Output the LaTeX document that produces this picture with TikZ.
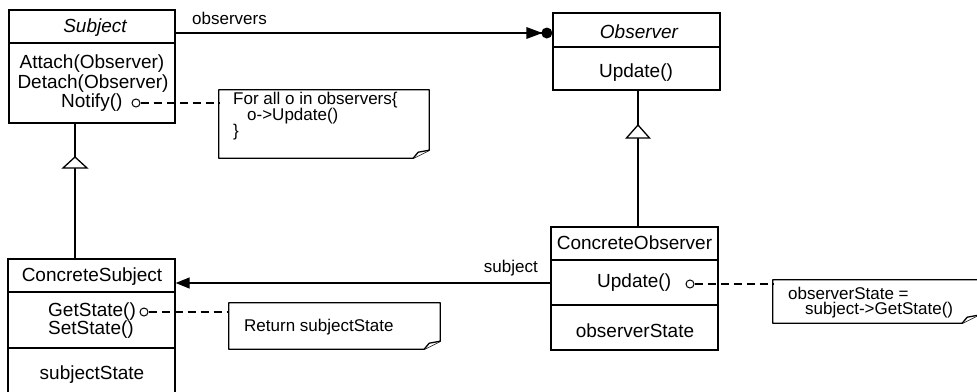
\documentclass[tikz,border=0pt]{standalone}
\usepackage{fontspec}
\setmainfont{Liberation Sans}
\usetikzlibrary{arrows.meta,calc}
\begin{document}
\begin{tikzpicture}[x=1pt,y=-1pt,
  cls/.style={draw,line width=1.3pt,rectangle,inner sep=0pt},
  ctext/.style={font=\fontsize{19}{22}\selectfont,inner sep=0pt},
  ntext/.style={font=\fontsize{17}{20}\selectfont,inner sep=0pt,anchor=west},
  lab/.style={font=\fontsize{17}{20}\selectfont,inner sep=0pt},
  conn/.style={line width=1.3pt},
  divider/.style={line width=1.3pt},
  dashline/.style={line width=1.4pt,dash pattern=on 8pt off 5pt},
  pin/.style={circle,draw,line width=1pt,minimum size=8pt,inner sep=0pt},
  notebox/.style={rectangle,inner sep=0pt},
  notedraw/.style={line width=1.3pt,line join=round},
  inherit/.style={line width=1.3pt,fill=white,line join=miter},
]
\useasboundingbox (0,0) rectangle (977,391);
\clip (0,0) rectangle (977,391);

% ---------------- Subject ----------------
\node[cls,minimum width=166pt,minimum height=113pt] (subj) at (92,66.5) {};
\draw[divider] (subj.west |- 0,43) -- (subj.east |- 0,43);
\node[ctext] (subjname) at (95,28) {\itshape Subject};
\node[ctext] (attach) at (92,64) {Attach(Observer)};
\node[ctext] (detach) at (93,84) {Detach(Observer)};
\node[ctext,anchor=west] (notify) at (61,103) {Notify()};
\node[pin] (c1) at (136,103) {};

% ---------------- Observer ----------------
\node[cls,minimum width=167pt,minimum height=77pt] (obs) at (636.5,51.5) {};
\draw[divider] (obs.west |- 0,47) -- (obs.east |- 0,47);
\node[ctext] (obsname) at (639,32) {\itshape Observer};
\node[ctext] (obsupd) at (636,73) {Update()};

% ---------------- ConcreteSubject ----------------
\node[cls,minimum width=167pt,minimum height=141pt] (csubj) at (91.5,329.5) {};
\draw[divider] (csubj.west |- 0,292) -- (csubj.east |- 0,292);
\draw[divider] (csubj.west |- 0,348) -- (csubj.east |- 0,348);
\node[ctext] (csubjname) at (92,277) {ConcreteSubject};
\node[ctext,anchor=west] (getstate) at (48,312) {GetState()};
\node[ctext,anchor=west] (setstate) at (48,330) {SetState()};
\node[pin] (c2) at (144,312) {};
\node[ctext] (substate) at (92,375) {subjectState};

% ---------------- ConcreteObserver ----------------
\node[cls,minimum width=167pt,minimum height=123pt] (cobs) at (634.5,288.5) {};
\draw[divider] (cobs.west |- 0,260) -- (cobs.east |- 0,260);
\draw[divider] (cobs.west |- 0,305) -- (cobs.east |- 0,305);
\node[ctext] (cobsname) at (634.5,243) {ConcreteObserver};
\node[ctext,anchor=west] (cobsupd) at (597,283) {Update()};
\node[pin] (c3) at (690,284) {};
\node[ctext] (obsstate) at (635,331) {observerState};

% ---------------- Notes ----------------
\node[notebox,minimum width=210pt,minimum height=68pt] (n1) at (324,124) {};
\node[ntext] at (233,100) {For all o in observers\{};
\node[ntext] at (247,116) {o->Update()};
\node[ntext] at (233,132) {\}};

\node[notebox,minimum width=211pt,minimum height=46pt] (n2) at (334.5,326) {};
\node[ntext] at (244,327) {Return subjectState};

\node[notebox,minimum width=205pt,minimum height=43pt] (n3) at (875.5,301.5) {};
\node[ntext] at (788,293) {observerState =};
\node[ntext] at (805,310) {subject->GetState()};

\foreach \n in {n1,n2,n3}{
  \draw[notedraw] (\n.north west) -- (\n.north east) -- ($(\n.south east)+(0,-8)$)
     -- ($(\n.south east)+(-16,0)$) -- (\n.south west) -- cycle;
  \draw[notedraw,fill=white] ($(\n.south east)+(-16,0)$) -- ($(\n.south east)+(-11,-6)$)
     -- ($(\n.south east)+(0,-8)$);
}

% ---------------- Connectors ----------------
% observers association
\coordinate (oy) at (0,33);
\draw[conn] (subj.east |- oy) -- (obs.west |- oy);
\fill ($(obs.west |- oy)+(-26,-6)$) -- ($(obs.west |- oy)+(-10,0)$) -- ($(obs.west |- oy)+(-26,6)$) -- cycle;
\fill ($(obs.west |- oy)+(-5.5,0)$) circle (5.5pt);
\node[lab,anchor=west] (obslab) at (192,18) {observers};

% subject association
\coordinate (sy) at (0,283);
\draw[conn,-{Triangle[length=14pt,width=11pt]}] (cobs.west |- sy) -- (csubj.east |- sy);
\node[lab,anchor=east] (sublab) at (538,268) {subject};

% inheritance Subject <- ConcreteSubject
\coordinate (ix1) at (75,0);
\draw[conn] (subj.south -| ix1) -- (csubj.north -| ix1);
\draw[inherit] (75,157) -- (87,168) -- (63,168) -- cycle;

% inheritance Observer <- ConcreteObserver
\coordinate (ix2) at (638,0);
\draw[conn] (obs.south -| ix2) -- (cobs.north -| ix2);
\draw[inherit] (638,125) -- (649.5,138) -- (626.5,138) -- cycle;

% note links
\draw[dashline] (c1) -- (n1.west |- c1);
\draw[dashline] (c2) -- (n2.west |- c2);
\draw[dashline] (c3) -- (n3.west |- c3);
\end{tikzpicture}
\end{document}
